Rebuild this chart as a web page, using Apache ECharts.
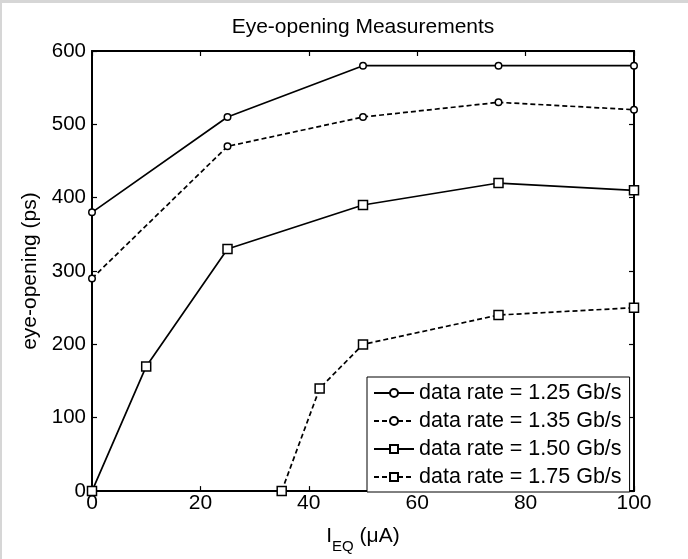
<!DOCTYPE html>
<html><head><meta charset="utf-8">
<script src="https://cdn.jsdelivr.net/npm/echarts@6/dist/echarts.min.js"></script>
<style>html,body{margin:0;padding:0;background:#fff}#c{width:688px;height:559px}</style>
</head><body><div id="c"></div>
<script>
const titleText = 'Eye-opening Measurements';
const yName = 'eye-opening (ps)';
const seriesNames = ['data rate = 1.25 Gb/s', 'data rate = 1.35 Gb/s', 'data rate = 1.50 Gb/s', 'data rate = 1.75 Gb/s'];
const x125 = [0, 25, 50, 75, 100];
const y125 = [380, 510, 580, 580, 580];
const x135 = [0, 25, 50, 75, 100];
const y135 = [290, 470, 510, 530, 520];
const x150 = [0, 10, 25, 50, 75, 100];
const y150 = [0, 170, 330, 390, 420, 410];
const x175 = [35, 42, 50, 75, 100];
const y175 = [0, 140, 200, 240, 250];
const xTicks = [0, 20, 40, 60, 80, 100];
const yTicks = [0, 100, 200, 300, 400, 500, 600];

const FONT = 'Liberation Sans';
const pair = (xs, ys) => xs.map((x, i) => [x, ys[i]]);
const styles = [
  {symbol: 'circle', size: 6.5, dash: 'solid'},
  {symbol: 'circle', size: 6.5, dash: [5, 3]},
  {symbol: 'rect', size: 9, dash: 'solid'},
  {symbol: 'rect', size: 9, dash: [5, 3]}
];
const datas = [pair(x125, y125), pair(x135, y135), pair(x150, y150), pair(x175, y175)];

const xMin = xTicks[0], xMax = xTicks[xTicks.length - 1], xStep = xTicks[1] - xTicks[0];
const yMin = yTicks[0], yMax = yTicks[yTicks.length - 1], yStep = yTicks[1] - yTicks[0];

const axisCommon = {
  axisLine: {show: true, onZero: false, lineStyle: {color: '#000', width: 2}},
  axisTick: {show: true, inside: true, length: 5, lineStyle: {color: '#000', width: 1.2}},
  splitLine: {show: false}
};

const chart = echarts.init(document.getElementById('c'), null, {renderer: 'canvas'});
chart.setOption({
  animation: false,
  backgroundColor: '#fff',
  textStyle: {fontFamily: FONT},
  title: {
    text: titleText, left: 363, top: 17, padding: 0, textAlign: 'center',
    textStyle: {fontFamily: FONT, fontSize: 21, fontWeight: 'normal', color: '#000'}
  },
  graphic: [
    {type: 'rect', left: 0, top: 0, shape: {width: 688, height: 3}, style: {fill: '#d6d6d6'}, silent: true},
    {type: 'rect', left: 0, top: 0, shape: {width: 2, height: 559}, style: {fill: '#d6d6d6'}, silent: true}
  ],
  grid: {left: 92, right: 54, top: 51, bottom: 62, containLabel: false},
  legend: {
    orient: 'vertical', left: 367, top: 377,
    padding: [5, 8, 4, 6], itemGap: 6, itemWidth: 40, itemHeight: 10,
    backgroundColor: '#fff', borderColor: '#000', borderWidth: 1,
    textStyle: {fontFamily: FONT, fontSize: 21.5, color: '#000', lineHeight: 22},
    data: seriesNames
  },
  xAxis: [
    Object.assign({
      type: 'value', position: 'bottom', min: xMin, max: xMax, interval: xStep,
      axisLabel: {fontFamily: FONT, fontSize: 21, color: '#000', margin: 2},
      name: '{m|I}{s|EQ}{m| (μA)}', nameLocation: 'middle', nameGap: 22,
      nameTextStyle: {rich: {
        m: {fontFamily: FONT, fontSize: 21, lineHeight: 24, color: '#000'},
        s: {fontFamily: FONT, fontSize: 15, lineHeight: 16, color: '#000', padding: [20, 0, 0, 0]}
      }}
    }, axisCommon),
    Object.assign({
      type: 'value', position: 'top', min: xMin, max: xMax, interval: xStep,
      axisLabel: {show: false}
    }, axisCommon)
  ],
  yAxis: [
    Object.assign({
      type: 'value', position: 'left', min: yMin, max: yMax, interval: yStep,
      axisLabel: {fontFamily: FONT, fontSize: 20.5, color: '#000', margin: 6},
      name: yName, nameLocation: 'middle', nameGap: 48, nameRotate: 90,
      nameTextStyle: {fontFamily: FONT, fontSize: 21, color: '#000'}
    }, axisCommon),
    Object.assign({
      type: 'value', position: 'right', min: yMin, max: yMax, interval: yStep,
      axisLabel: {show: false}
    }, axisCommon)
  ],
  series: datas.map((d, i) => ({
    name: seriesNames[i], type: 'line', xAxisIndex: 0, yAxisIndex: 0,
    data: d, clip: false,
    symbol: styles[i].symbol, symbolSize: styles[i].size, showSymbol: true,
    lineStyle: {color: '#000', width: 1.7, type: styles[i].dash},
    itemStyle: {color: '#fff', borderColor: '#000', borderWidth: 1.5},
    emphasis: {disabled: true}
  }))
});
</script></body></html>
